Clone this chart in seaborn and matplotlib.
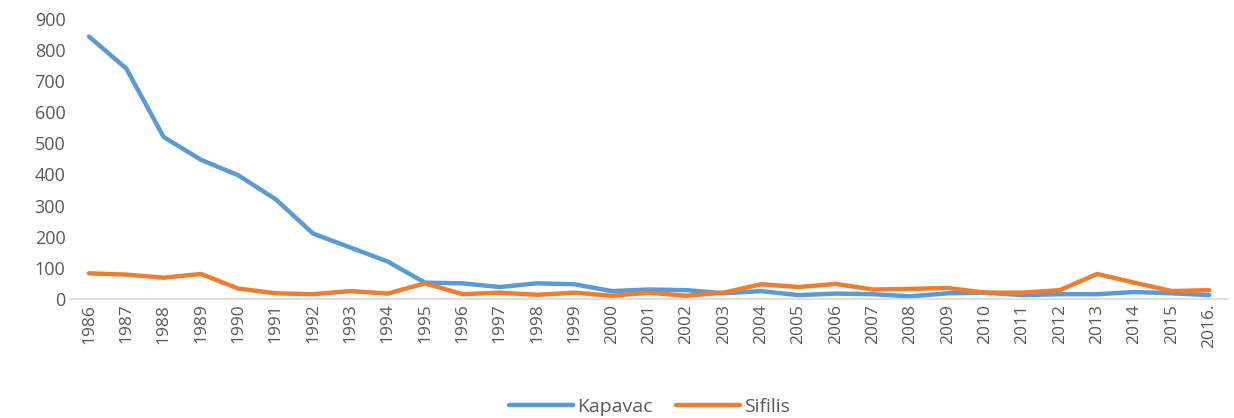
import pandas as pd
import matplotlib.pyplot as plt
import seaborn as sns

years = [str(y) for y in range(1986, 2016)] + ["2016."]

kapavac = [843, 740, 520, 447, 397, 320, 210, 165, 120, 52,
           50, 38, 50, 47, 25, 30, 28, 18, 25, 12,
           17, 15, 8, 18, 20, 12, 15, 15, 22, 18, 12]

sifilis = [82, 78, 68, 80, 33, 18, 15, 25, 17, 50,
           15, 20, 13, 20, 10, 20, 10, 20, 47, 38,
           48, 30, 32, 35, 20, 20, 28, 80, 52, 25, 28]

df = pd.DataFrame({"godina": years, "Kapavac": kapavac, "Sifilis": sifilis})
long_df = df.melt(id_vars="godina", var_name="bolest", value_name="broj")

sns.set_style("white")
plt.rcParams["font.family"] = ["Open Sans", "DejaVu Sans"]

fig, ax = plt.subplots(figsize=(12.34, 4.18), dpi=100)
fig.subplots_adjust(left=0.057, right=0.995, top=0.955, bottom=0.285)

sns.lineplot(
    data=long_df, x="godina", y="broj", hue="bolest",
    palette={"Kapavac": "#5B9BD5", "Sifilis": "#ED7D31"},
    linewidth=3.2, sort=False, ax=ax,
)

ax.set_ylim(0, 900)
ax.set_yticks(range(0, 901, 100))
ax.set_xlim(-0.5, len(years) - 0.5)
ax.set_xlabel("")
ax.set_ylabel("")
ax.tick_params(axis="x", rotation=90, labelsize=12.5, colors="#595959", length=0)
ax.tick_params(axis="y", labelsize=13, colors="#595959", length=0)

for side in ["top", "right", "left"]:
    ax.spines[side].set_visible(False)
ax.spines["bottom"].set_color("#D9D9D9")
ax.spines["bottom"].set_linewidth(1.2)

leg = ax.legend(
    loc="upper center", bbox_to_anchor=(0.5, -0.29), ncol=2, frameon=False,
    fontsize=14, handlelength=3.3, columnspacing=1.2, handletextpad=0.2,
)
for t in leg.get_texts():
    t.set_color("#595959")

fig.savefig("out.png", dpi=100)
